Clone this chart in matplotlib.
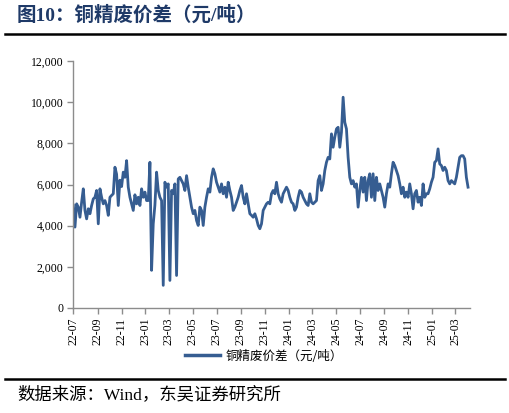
import matplotlib
matplotlib.use("Agg")
import matplotlib.pyplot as plt
from matplotlib.lines import Line2D
import pandas as pd

serif_cjk = ['Liberation Serif', 'Noto Sans CJK SC', 'DejaVu Sans']
plt.rcParams['font.family'] = serif_cjk

title = "图10：铜精废价差（元/吨）"
series_name = "铜精废价差（元/吨）"
source = "数据来源：Wind，东吴证券研究所"
start_date = "2022-07-01"
end_date = "2025-04-02"
xtick_start = "2022-07-01"
xtick_end = "2025-03-01"
yticks = [0, 2000, 4000, 6000, 8000, 10000, 12000]

spread = [
    5000, 3930, 5060, 4900, 4410, 5140, 5790, 4740, 4330, 4820,
    4580, 4980, 5300, 5380, 5710, 4090, 5790, 5380, 5060, 5220,
    4980, 4500, 5380, 5470, 5550, 6840, 6500, 4980, 6210, 5900,
    6600, 6350, 7160, 5870, 5380, 5060, 4740, 5500, 5060, 5380,
    4980, 5790, 5380, 5630, 5220, 5220, 7080, 1830, 4090, 5000,
    6600, 5710, 5380, 5220, 1100, 6110, 5870, 6030, 1340, 5710,
    5550, 6030, 1580, 6270, 6350, 6190, 6030, 5710, 6430, 5870,
    5380, 4900, 4580, 4740, 4250, 4010, 4900, 4740, 4010, 4900,
    5380, 5790, 5630, 6350, 6760, 6520, 6110, 5870, 5630, 6030,
    5550, 5870, 5380, 6110, 5710, 5380, 4740, 4900, 5140, 5380,
    5710, 5950, 5380, 5060, 5550, 5060, 4580, 4500, 4410, 4580,
    4330, 4010, 3850, 4090, 4740, 4900, 5060, 5140, 5060, 5550,
    5710, 5550, 6110, 5550, 5300, 5140, 5550, 5710, 5870, 5710,
    5380, 5140, 5060, 4740, 4900, 5380, 5710, 5630, 5380, 5220,
    5060, 4980, 5550, 5140, 5060, 5140, 5220, 6190, 6430, 5710,
    6030, 6680, 7080, 7320, 7240, 8460, 7810, 8300, 8700, 8780,
    7810, 8540, 10240, 9020, 8700, 7320, 6350, 6030, 6190, 5870,
    6030, 4900, 5710, 6350, 5630, 6350, 5220, 6190, 6520, 5380,
    6520, 5220, 6350, 5710, 6030, 5710, 5380, 4900, 5550, 6030,
    5870, 6520, 7080, 6920, 6680, 6430, 6030, 5550, 5870, 5380,
    5630, 5380, 6030, 5550, 4820, 5550, 5710, 5140, 5380, 4980,
    6030, 5380, 5550, 5550, 5790, 6110, 6350, 7080, 7160, 7730,
    7000, 6920, 6680, 6840, 6680, 6190, 6030, 6190, 6110, 6030,
    6350, 6840, 7320, 7400, 7400, 7240, 6350, 5870,
]

dates = pd.date_range(start_date, end_date, periods=len(spread))

W, H = 510, 413
fig = plt.figure(figsize=(W / 100, H / 100), dpi=100)
ax = fig.add_axes([73.3 / W, 1 - 308 / H, (470 - 73.3) / W, (308 - 61) / H])

line_color = "#365D91"
ax.plot(dates, spread, color=line_color, lw=2.0, solid_joinstyle='round')

ax.set_ylim(0, 12000)
ax.set_yticks(yticks)
ax.set_yticklabels([f"{v:,}" for v in yticks])
ax.set_xlim(pd.Timestamp(start_date), pd.Timestamp("2025-04-07"))
xt = pd.date_range(xtick_start, xtick_end, freq="2MS")
ax.set_xticks(xt)
ax.set_xticklabels([d.strftime("%y-%m") for d in xt], rotation=90)

for s in ["top", "right"]:
    ax.spines[s].set_visible(False)
for s in ["left", "bottom"]:
    ax.spines[s].set_color("#8C8C8C")
    ax.spines[s].set_linewidth(1.0)
ax.tick_params(axis="both", direction="out", length=4, width=1.0, color="#8C8C8C",
               labelsize=8.5, labelcolor="black", pad=3)

handle = Line2D([0], [0], color=line_color, lw=2.5)
fig.legend([handle], [series_name], loc="center", bbox_to_anchor=(264 / W, 1 - 356 / H),
           frameon=False, prop={"family": ["Noto Sans CJK SC", "DejaVu Sans"], "size": 9},
           handlelength=2.8, handletextpad=0.4)

fig.text(17 / W, 1 - 15 / H, title, fontsize=14, fontweight="bold", color="#1F3A68",
         ha="left", va="center", family=serif_cjk)
fig.add_artist(Line2D([5 / W, 505 / W], [1 - 34 / H, 1 - 34 / H], color="black", lw=1.8))
fig.add_artist(Line2D([5 / W, 505 / W], [1 - 379 / H, 1 - 379 / H], color="black", lw=1.8))
fig.text(17 / W, 1 - 395 / H, source, fontsize=12.5, color="black", ha="left", va="center",
         family=serif_cjk)

fig.savefig("out.png", dpi=100)
